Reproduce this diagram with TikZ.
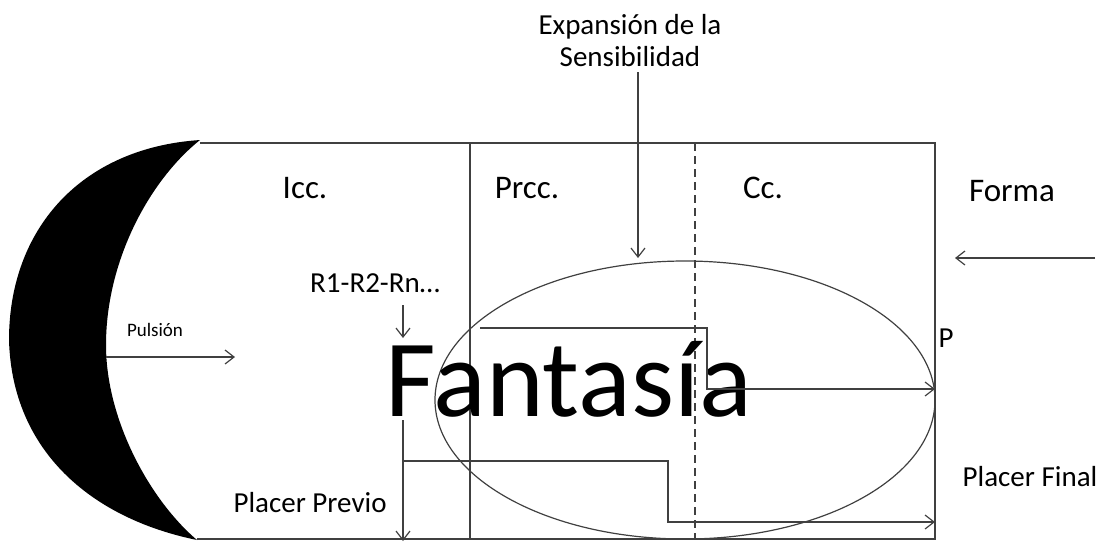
\documentclass[tikz,border=0pt]{standalone}
\usepackage{fontspec}
\setmainfont{Carlito}
\usetikzlibrary{arrows.meta}
\begin{document}
\begin{tikzpicture}[x=1pt,y=-1pt,
  ln/.style={draw=black!75,line width=1.2pt},
  arr/.style={ln,-{Straight Barb[length=9pt,width=14pt]}},
  lbl/.style={inner sep=0pt,font=\fontsize{29}{32}\selectfont},
  big/.style={inner sep=0pt,font=\fontsize{33}{36}\selectfont}]
\useasboundingbox (0,0) rectangle (1099,542);
% crescent
\fill[black] (200,140) .. controls (80,148) and (9,230) .. (9,340)
  .. controls (12,450) and (90,518) .. (197,540)
  .. controls (150,500) and (106,420) .. (106,345)
  .. controls (106,260) and (150,180) .. (200,140) -- cycle;
% frame
\draw[ln] (200,143) -- (935,143) -- (935,539) -- (197,539);
\draw[ln] (470,143) -- (470,539);
\draw[ln,dashed,dash pattern=on 8pt off 5pt] (695,143) -- (695,539);
% ellipse
\draw[ln] (685,400) ellipse [x radius=250, y radius=139];
% labels
\node[lbl,align=center] (exp) at (630,41) {Expansión de la\\Sensibilidad};
\node[big] (icc) at (305,188) {Icc.};
\node[big] (prcc) at (527,188) {Prcc.};
\node[big] (cc) at (763,188) {Cc.};
\node[big] (forma) at (1012,191) {Forma};
\node[lbl] (rr) at (375,283) {R1-R2-Rn…};
\node[inner sep=0pt,anchor=base,font=\fontsize{110}{113}\selectfont] (fan) at (569,416) {Fantasía};
\node[inner sep=0pt,font=\fontsize{19}{22}\selectfont] (pul) at (155,330) {Pulsión};
\node[lbl] (p) at (946,338) {P};
\node[lbl] (pp) at (310,503) {Placer Previo};
\node[lbl] (pf) at (1030,477) {Placer Final};
% coordinates
\coordinate (e1) at (638,72);
\coordinate (e2) at (638,258);
\coordinate (f1) at (1095,258);
\coordinate (f2) at (955,258);
\coordinate (pu1) at (106,357);
\coordinate (pu2) at (235,357);
\coordinate (r1) at (403,305);
\coordinate (r2) at (403,338);
\coordinate (v1) at (403,420);
\coordinate (v2) at (403,541);
\coordinate (u1) at (480,328);
\coordinate (u2) at (707,328);
\coordinate (u3) at (707,389);
\coordinate (u4) at (935,389);
\coordinate (l1) at (403,461);
\coordinate (l2) at (668,461);
\coordinate (l3) at (668,522);
\coordinate (l4) at (935,522);
% arrows
\draw[arr] (e1) -- (e2);
\draw[arr] (f1) -- (f2);
\draw[arr] (pu1) -- (pu2);
\draw[arr] (r1) -- (r2);
\draw[arr] (v1) -- (v2);
\draw[arr] (u1) -- (u2) -- (u3) -- (u4);
\draw[arr] (l1) -- (l2) -- (l3) -- (l4);
\end{tikzpicture}
\end{document}
